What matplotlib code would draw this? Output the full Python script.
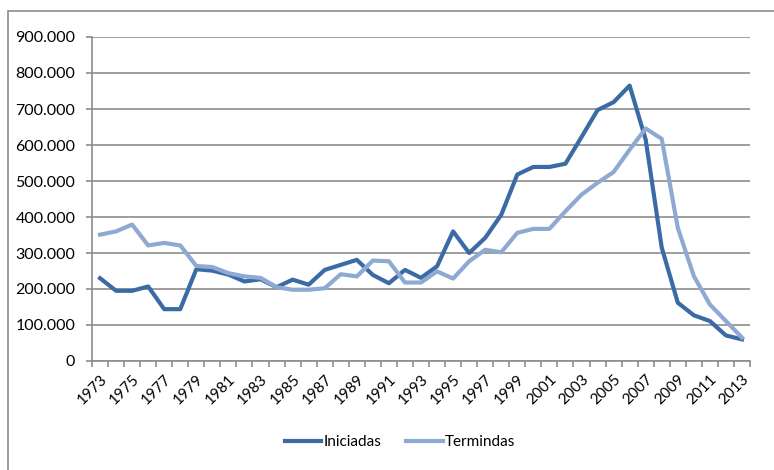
import numpy as np
import matplotlib.pyplot as plt
from matplotlib.patches import Rectangle
from matplotlib.ticker import FuncFormatter

years = list(range(1973, 2014))

# viviendas iniciadas / terminadas, miles
iniciadas = [230, 195, 195, 207, 144, 144, 255, 251, 240, 221,
             227, 205, 226, 212, 253, 267, 281, 239, 216, 253,
             231, 263, 360, 300, 342, 406, 518, 539, 539, 548,
             622, 697, 719, 765, 615, 315, 162, 127, 111, 71,
             60]
terminadas = [351, 360, 379, 321, 328, 321, 264, 261, 244, 235,
              231, 205, 198, 198, 202, 241, 235, 279, 277, 218,
              218, 249, 229, 277, 309, 302, 356, 367, 367, 416,
              462, 495, 525, 587, 646, 617, 370, 236, 157, 111,
              65]

plt.rcParams['font.family'] = ['Lato', 'DejaVu Sans']

fig = plt.figure(figsize=(7.74, 4.70), dpi=100)
ax = fig.add_axes([92/774, 1 - 361/470, (750 - 92)/774, (361 - 37)/470])

# outer chart frame (cut by the image edge)
fig.patches.append(Rectangle((8/774, -0.1), 1.2, 1 - 11/470 + 0.1,
                             transform=fig.transFigure, fill=False,
                             edgecolor='#8c8c8c', lw=1.2, clip_on=False))

x = np.arange(len(years))
ax.plot(x, np.array(iniciadas) * 1000, color='#3b6ba5', lw=3.0,
        label='Iniciadas', solid_joinstyle='round')
ax.plot(x, np.array(terminadas) * 1000, color='#8eaad3', lw=3.0,
        label='Termindas', solid_joinstyle='round')

ax.set_xlim(-0.5, len(years) - 0.5)
ax.set_ylim(0, 900000)
ax.set_yticks(np.arange(0, 900001, 100000))
ax.yaxis.set_major_formatter(FuncFormatter(
    lambda v, p: '0' if v == 0 else f'{int(v):,}'.replace(',', '.')))
ax.grid(axis='y', color='#8c8c8c', lw=1.2)
ax.set_axisbelow(True)

ax.set_xticks(x[::2])
ax.set_xticklabels([str(y) for y in years[::2]], rotation=45,
                   ha='right', rotation_mode='anchor')
ax.set_xticks(np.arange(-0.5, len(years), 1), minor=True)
ax.tick_params(axis='x', which='major', length=0, pad=8, labelsize=11)
ax.tick_params(axis='x', which='minor', length=4, color='#8c8c8c', width=1.2)
ax.tick_params(axis='y', length=4, color='#8c8c8c', width=1.2,
               labelsize=11.5, pad=8)

for s in ['top', 'right']:
    ax.spines[s].set_visible(False)
for s in ['left', 'bottom']:
    ax.spines[s].set_color('#8c8c8c')
    ax.spines[s].set_linewidth(1.2)

fig.legend(loc='center', bbox_to_anchor=(400/774, 1 - 442/470), ncol=2,
           frameon=False, fontsize=11, handlelength=2.4, columnspacing=1.6,
           handletextpad=0.15)

fig.savefig('out.png', dpi=100)
